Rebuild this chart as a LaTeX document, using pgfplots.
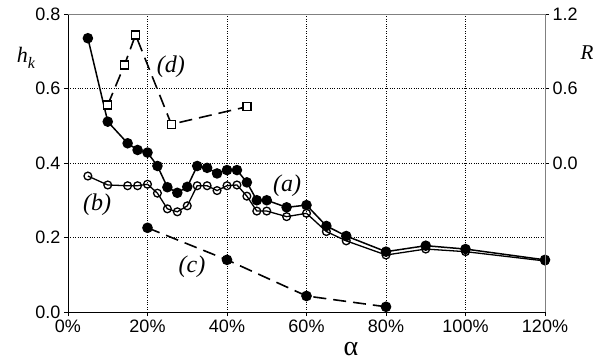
\documentclass[border=0pt]{standalone}
\usepackage{fontspec}
\setmainfont{Liberation Sans}
\newfontfamily\tnr{Liberation Serif}
\usepackage{pgfplots}
\pgfplotsset{compat=1.18}
\begin{document}
\begin{tikzpicture}
\useasboundingbox (-68pt,-48pt) rectangle (534pt,312pt);
\begin{axis}[
  at={(0,0)}, anchor=south west,
  scale only axis, width=477pt, height=298pt,
  xmin=0, xmax=120, ymin=0, ymax=0.8,
  xtick={0,20,40,60,80,100,120},
  xticklabels={0\%,20\%,40\%,60\%,80\%,100\%,120\%},
  ytick={0,0.2,0.4,0.6,0.8},
  yticklabels={0.0,0.2,0.4,0.6,0.8},
  xtick pos=bottom, ytick pos=left,
  tick align=outside, major tick length=4pt,
  tick style={black, line width=0.6pt},
  axis line style={black, line width=0.8pt},
  grid=major,
  major grid style={black, dotted, line width=0.6pt},
  tick label style={font=\fontsize{18}{18}\selectfont},
  /pgf/number format/assume math mode=true,
  clip=false,
]
\draw[gray, line width=0.8pt] (rel axis cs:0,1) -- (rel axis cs:1,1) -- (rel axis cs:1,0);
% (b) open circles
\addplot[black, line width=1.3pt, mark=o, mark size=3.9pt, mark options={fill=white, line width=1.3pt}] coordinates {
(5,0.365) (10,0.341) (15,0.339) (17.5,0.339) (20,0.343) (22.5,0.319) (25,0.277) (27.5,0.269) (30,0.285)
(32.5,0.339) (35,0.339) (37.5,0.326) (40,0.339) (42.5,0.341) (45,0.311) (47.5,0.271) (50,0.271)
(55,0.256) (60,0.265) (65,0.216) (70,0.191) (80,0.153) (90,0.169) (100,0.162) (120,0.137)};
% (a) filled circles
\addplot[black, line width=1.5pt, mark=*, mark size=4.5pt] coordinates {
(5,0.735) (10,0.511) (15,0.453) (17.5,0.435) (20,0.428) (22.5,0.392) (25,0.335) (27.5,0.320) (30,0.336)
(32.5,0.392) (35,0.387) (37.5,0.372) (40,0.381) (42.5,0.381) (45,0.348) (47.5,0.300) (50,0.300)
(55,0.281) (60,0.287) (65,0.231) (70,0.204) (80,0.162) (90,0.178) (100,0.169) (120,0.140)};
% (c) dashed filled circles
\addplot[black, line width=1.6pt, dash pattern=on 13pt off 7pt, mark=*, mark size=4.5pt, mark options={solid}] coordinates {
(20,0.226) (40,0.140) (60,0.043) (80,0.014)};
% (d) dashed open squares
\addplot[black, line width=1.6pt, dash pattern=on 13pt off 7pt, mark=square*, mark size=4pt, mark options={solid, fill=white, line width=1.3pt}] coordinates {
(10,0.556) (14.2,0.663) (17,0.744) (26,0.504) (45,0.551)};
\node[font=\tnr\itshape\fontsize{24}{24}\selectfont] at (axis cs:55.1,0.338) {(a)};
\node[font=\tnr\itshape\fontsize{24}{24}\selectfont] at (axis cs:7.3,0.287) {(b)};
\node[font=\tnr\itshape\fontsize{24}{24}\selectfont] at (axis cs:31.2,0.121) {(c)};
\node[font=\tnr\itshape\fontsize{24}{24}\selectfont] at (axis cs:25.9,0.658) {(d)};
\node[font=\tnr\itshape\fontsize{22}{22}\selectfont, inner sep=0pt] at ([xshift=-42pt]axis cs:0,0.682) {h\raisebox{-0.28em}{\fontsize{16}{16}\selectfont k}};
\node[font=\tnr\itshape\fontsize{21}{21}\selectfont, inner sep=0pt] at ([xshift=42pt]axis cs:120,0.697) {R};
\node[font=\tnr\fontsize{28}{28}\selectfont, inner sep=0pt, anchor=base] at ([yshift=-43pt]axis cs:71.2,0) {α};
\end{axis}
\begin{axis}[
  at={(0,0)}, anchor=south west,
  scale only axis, width=477pt, height=298pt,
  xmin=0, xmax=120, ymin=-1.2, ymax=1.2,
  axis x line=none, axis y line*=right,
  ytick={0,0.6,1.2}, yticklabels={0.0,0.6,1.2},
  tick align=outside, major tick length=4pt,
  tick style={black, line width=0.6pt},
  axis line style={gray, line width=0.8pt},
  tick label style={font=\fontsize{18}{18}\selectfont},
  /pgf/number format/assume math mode=true,
]
\end{axis}
\end{tikzpicture}
\end{document}
